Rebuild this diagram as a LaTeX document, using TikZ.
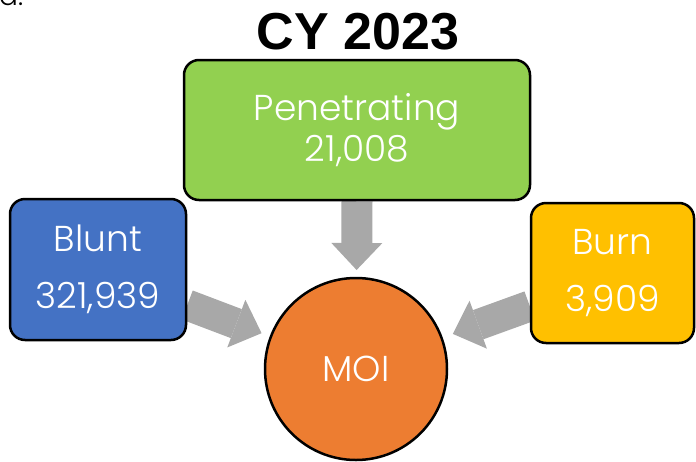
\documentclass[tikz,border=0pt]{standalone}
\usepackage{fontspec}
\setmainfont{Poppins}[UprightFont={* Light}]
\newfontfamily\titlefont{Liberation Sans}
\usetikzlibrary{arrows.meta,backgrounds}
\definecolor{cgreen}{HTML}{92D050}
\definecolor{cblue}{HTML}{4472C4}
\definecolor{cyellow}{HTML}{FFC000}
\definecolor{corange}{HTML}{ED7D31}
\definecolor{agray}{HTML}{A8A8A8}
\begin{document}
\begin{tikzpicture}[x=1pt,y=-1pt,
  box/.style={draw=black, line width=2.5pt, rounded corners=15pt, text=white, align=center, inner sep=0pt},
  bigarrow/.style={draw=agray, line width=31pt, -{Triangle[length=27pt,width=51pt,line width=0pt]}},
  big/.style={font=\fontsize{36}{57}\selectfont},
  tight/.style={font=\fontsize{36}{41}\selectfont}]
\useasboundingbox (0,0) rectangle (696,461);
\node[anchor=base west, inner sep=0pt, font=\fontsize{28}{30}\selectfont] (frag) at (-1,5) {a.};
\node[anchor=base, inner sep=0pt, font=\titlefont\bfseries\fontsize{52}{60}\selectfont] (title) at (358,49) {CY 2023};
\node[box, fill=cgreen, minimum width=346pt, minimum height=140pt, tight] (pen) at (357,130) {Penetrating\\21,008};
\node[box, fill=cblue, minimum width=176pt, minimum height=141pt, big] (blunt) at (98,269.5) {Blunt\\321,939};
\node[box, fill=cyellow, minimum width=163pt, minimum height=140pt, big] (burn) at (612.5,273) {Burn\\3,909};
\node[circle, draw=black, line width=2.5pt, fill=corange, text=white, minimum size=182pt, inner sep=0pt, font=\fontsize{36}{41}\selectfont] (moi) at (356,369) {MOI};
\coordinate (ls) at ([yshift=-35.5pt]blunt.east);
\coordinate (rs) at ([yshift=-33pt]burn.west);
\begin{scope}[on background layer]
\draw[bigarrow, shorten >=99pt] (pen.south) -- (moi.center);
\draw[bigarrow, shorten >=101pt] (ls) -- (moi.center);
\draw[bigarrow, shorten >=103pt] (rs) -- (moi.center);
\end{scope}
\end{tikzpicture}
\end{document}
